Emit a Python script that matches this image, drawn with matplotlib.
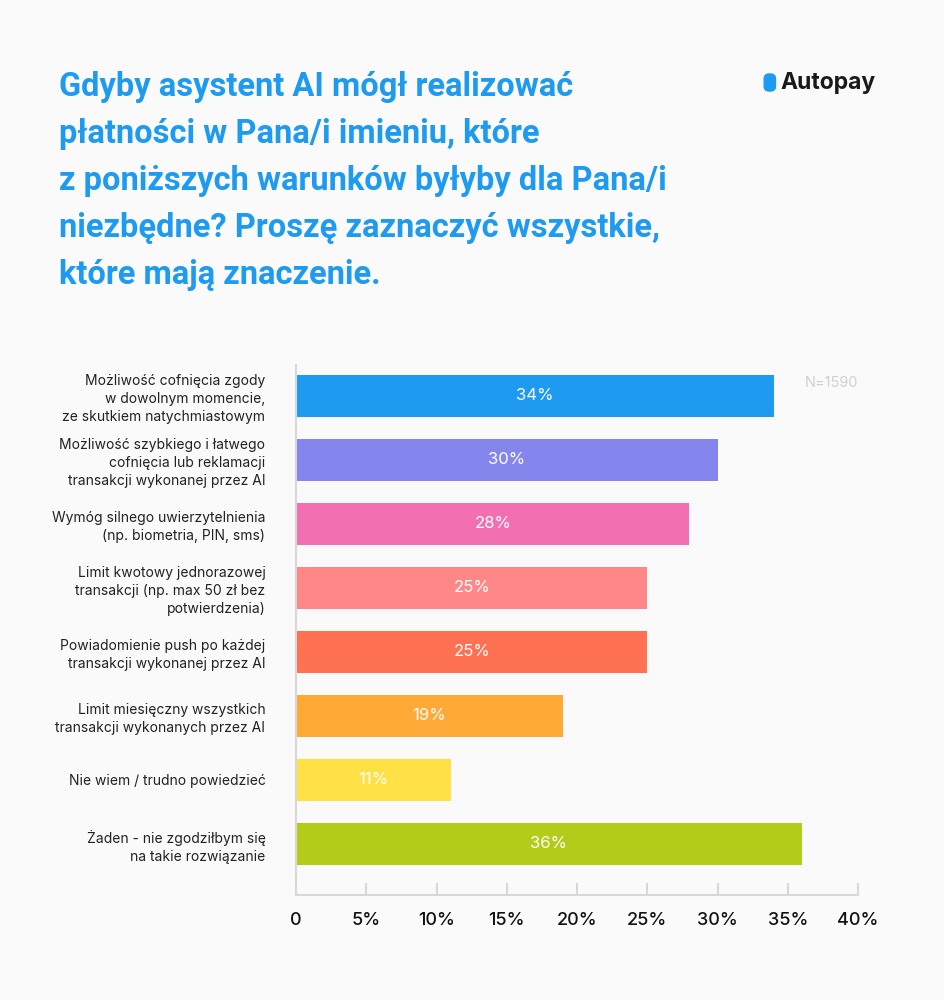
import matplotlib
matplotlib.use("Agg")
import matplotlib.pyplot as plt
from matplotlib.patches import FancyBboxPatch

categories = [
    "Możliwość cofnięcia zgody\nw dowolnym momencie,\nze skutkiem natychmiastowym",
    "Możliwość szybkiego i łatwego\ncofnięcia lub reklamacji\ntransakcji wykonanej przez AI",
    "Wymóg silnego uwierzytelnienia\n(np. biometria, PIN, sms)",
    "Limit kwotowy jednorazowej\ntransakcji (np. max 50 zł bez\npotwierdzenia)",
    "Powiadomienie push po każdej\ntransakcji wykonanej przez AI",
    "Limit miesięczny wszystkich\ntransakcji wykonanych przez AI",
    "Nie wiem / trudno powiedzieć",
    "Żaden - nie zgodziłbym się\nna takie rozwiązanie",
]
values = [34, 30, 28, 25, 25, 19, 11, 36]
colors = ["#1E9BF0", "#8585EE", "#F270B2", "#FF8787", "#FF7152", "#FFAA36", "#FFE045", "#B3CC1A"]
ticks = [0, 5, 10, 15, 20, 25, 30, 35, 40]
tick_labels = ["0", "5%", "10%", "15%", "20%", "25%", "30%", "35%", "40%"]

bg = "#FAFAFA"
fig = plt.figure(figsize=(9.44, 10), dpi=100, facecolor=bg)
ax = fig.add_axes([0.3136, 0.105, 0.5953, 0.53], facecolor=bg)

y = list(range(len(values)))
ax.barh(y, values, height=0.66, color=colors)
for i, v in enumerate(values):
    ax.text(v / 2, i, f"{v}%", ha="center", va="center", color="white",
            fontsize=12, family="Inter")
ax.set_xlim(0, 40)
ax.set_ylim(7.8, -0.48)
ax.set_yticks(y)
ax.set_yticklabels(categories, fontsize=10, family="Inter", color="#222222", linespacing=1.35)
ax.tick_params(axis="y", length=0, pad=22)
ax.set_xticks(ticks)
ax.set_xticklabels(tick_labels, fontsize=13, family="Inter", fontweight="medium", color="#111111")
ax.tick_params(axis="x", direction="in", length=9, color="#D8D8D8", width=1.5, pad=12)
for s in ["top", "right"]:
    ax.spines[s].set_visible(False)
for s in ["left", "bottom"]:
    ax.spines[s].set_color("#D8D8D8")
    ax.spines[s].set_linewidth(1.5)

ax.text(40, -0.2, "N=1590", ha="right", va="center", fontsize=10.5,
        family="Inter", color="#D0D0D0")

title = ("Gdyby asystent AI mógł realizować\npłatności w Pana/i imieniu, które\n"
         "z poniższych warunków byłyby dla Pana/i\nniezbędne? Proszę zaznaczyć wszystkie,\n"
         "które mają znaczenie.")
fig.text(0.063, 0.929, title, ha="left", va="top", fontsize=23.5, family="Roboto",
         fontweight="bold", color="#1E9BF0", linespacing=1.6)

# logo
fig.text(0.827, 0.917, "Autopay", ha="left", va="center", fontsize=16.5, family="Inter",
         fontweight="bold", color="#1A1A1A")
logo = FancyBboxPatch((0.8095, 0.909), 0.012, 0.017, boxstyle="round,pad=0,rounding_size=0.005",
                      transform=fig.transFigure, color="#1E9BF0")
fig.patches.append(logo)

fig.savefig("out.png", dpi=100, facecolor=bg)
